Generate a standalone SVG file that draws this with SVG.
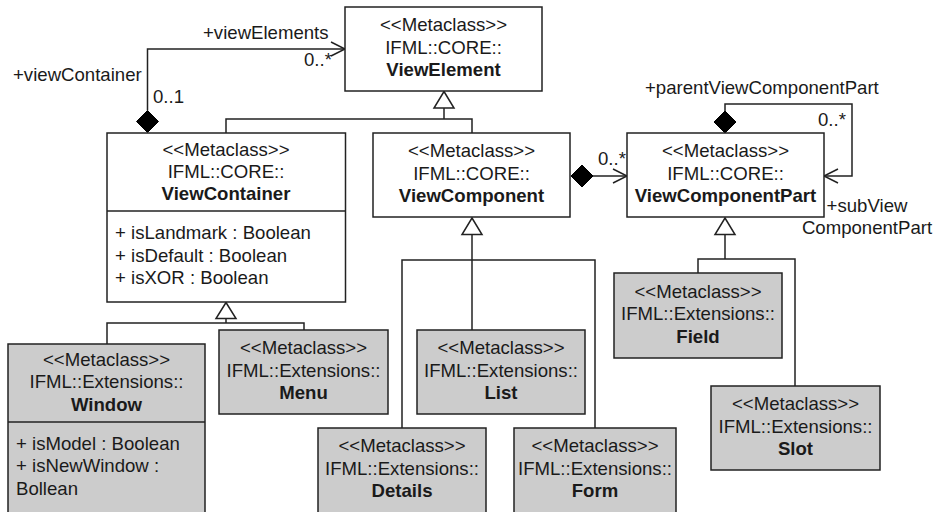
<svg xmlns="http://www.w3.org/2000/svg" width="936" height="512" viewBox="0 0 936 512">
<style>
  .box { fill: #ffffff; stroke: #222222; stroke-width: 1.5; }
  .ext { fill: #cccccc; stroke: #222222; stroke-width: 1.5; }
  .ln { fill: none; stroke: #222222; stroke-width: 1.5; }
  .t { font-family: "Liberation Sans", Arial, sans-serif; font-size: 18.6px; fill: #1a1a1a; }
  .c { text-anchor: middle; }
  .b { font-weight: bold; }
  .tri { fill: #ffffff; stroke: #222222; stroke-width: 1.5; }
  .dia { fill: #000000; stroke: #000000; stroke-width: 1; }
</style>
<rect width="936" height="512" fill="#ffffff"/>

<g id="connectors">
  <!-- viewContainer -> viewElements composition -->
  <polyline class="ln" points="147.5,110.5 147.5,49 345,49"/>
  <polyline class="ln" points="331,42 345,49 331,56"/>
  <polygon class="dia" points="147.5,110.5 158.5,121.5 147.5,132.5 136.5,121.5"/>
  <!-- ViewComponent -> ViewComponentPart composition -->
  <line class="ln" x1="593" y1="176" x2="627" y2="176"/>
  <polyline class="ln" points="613,169 627,176 613,183"/>
  <polygon class="dia" points="571,176 582,165 593,176 582,187"/>
  <!-- self association ViewComponentPart -->
  <polyline class="ln" points="725,111 725,104 852,104 852,176 824,176"/>
  <polyline class="ln" points="838,169 824,176 838,183"/>
  <polygon class="dia" points="725,111 736,122 725,133 714,122"/>
  <!-- generalization to ViewElement -->
  <polyline class="ln" points="226,133 226,119 472,119 472,133"/>
  <line class="ln" x1="444" y1="108" x2="444" y2="119"/>
  <polygon class="tri" points="444,91.5 454,108 434,108"/>
  <!-- generalization to ViewContainer -->
  <polyline class="ln" points="107,344 107,323 304,323 304,330"/>
  <line class="ln" x1="226" y1="318.5" x2="226" y2="323"/>
  <polygon class="tri" points="226,302.5 236,318.5 216,318.5"/>
  <!-- generalization to ViewComponent -->
  <line class="ln" x1="472" y1="234.5" x2="472" y2="330"/>
  <polyline class="ln" points="402,428 402,260 595,260 595,428"/>
  <polygon class="tri" points="472,218 482,234.5 462,234.5"/>
  <!-- generalization to ViewComponentPart -->
  <line class="ln" x1="725" y1="234.5" x2="725" y2="259"/>
  <polyline class="ln" points="698,273 698,259 795,259 795,386"/>
  <polygon class="tri" points="725,218 735,234.5 715,234.5"/>

  <!-- association labels -->
  <text class="t" x="203" y="38.5">+viewElements</text>
  <text class="t" x="304" y="66">0..*</text>
  <text class="t" x="13" y="81">+viewContainer</text>
  <text class="t" x="153" y="102.5">0..1</text>
  <text class="t" x="598" y="165">0..*</text>
  <text class="t" x="645" y="94">+parentViewComponentPart</text>
  <text class="t" x="818" y="125.5">0..*</text>
  <text class="t c" x="867" y="211.5">+subView</text>
  <text class="t c" x="867" y="234">ComponentPart</text>
</g>

<g id="ViewElement">
  <rect class="box" x="345" y="7" width="197" height="84"/>
  <text class="t c" x="443.5" y="31.2">&lt;&lt;Metaclass&gt;&gt;</text>
  <text class="t c" x="443.5" y="54">IFML::CORE::</text>
  <text class="t c b" x="443.5" y="76.4">ViewElement</text>
</g>

<g id="ViewContainer">
  <rect class="box" x="107" y="133" width="238.5" height="169"/>
  <line class="ln" x1="107" y1="211" x2="345.5" y2="211"/>
  <text class="t c" x="226" y="155.5">&lt;&lt;Metaclass&gt;&gt;</text>
  <text class="t c" x="226" y="177.5">IFML::CORE::</text>
  <text class="t c b" x="226" y="200">ViewContainer</text>
  <text class="t" x="115" y="239">+ isLandmark : Boolean</text>
  <text class="t" x="115" y="261.5">+ isDefault : Boolean</text>
  <text class="t" x="115" y="284">+ isXOR : Boolean</text>
</g>

<g id="ViewComponent">
  <rect class="box" x="373" y="133" width="197" height="84"/>
  <text class="t c" x="471.5" y="157.2">&lt;&lt;Metaclass&gt;&gt;</text>
  <text class="t c" x="471.5" y="180">IFML::CORE::</text>
  <text class="t c b" x="471.5" y="202.4">ViewComponent</text>
</g>

<g id="ViewComponentPart">
  <rect class="box" x="627" y="133" width="197" height="84"/>
  <text class="t c" x="725.5" y="157.2">&lt;&lt;Metaclass&gt;&gt;</text>
  <text class="t c" x="725.5" y="180">IFML::CORE::</text>
  <text class="t c b" x="725.5" y="202.4">ViewComponentPart</text>
</g>

<g id="Window">
  <rect class="ext" x="8" y="344" width="197" height="180"/>
  <line class="ln" x1="8" y1="422" x2="205" y2="422"/>
  <text class="t c" x="106.5" y="366">&lt;&lt;Metaclass&gt;&gt;</text>
  <text class="t c" x="106.5" y="388.3">IFML::Extensions::</text>
  <text class="t c b" x="106.5" y="410.7">Window</text>
  <text class="t" x="16" y="450">+ isModel : Boolean</text>
  <text class="t" x="16" y="472.4">+ isNewWindow :</text>
  <text class="t" x="16" y="494.8">Bollean</text>
</g>

<g id="Menu">
  <rect class="ext" x="219" y="330" width="169" height="84"/>
  <text class="t c" x="303.5" y="354.2">&lt;&lt;Metaclass&gt;&gt;</text>
  <text class="t c" x="303.5" y="377">IFML::Extensions::</text>
  <text class="t c b" x="303.5" y="399.4">Menu</text>
</g>

<g id="List">
  <rect class="ext" x="417" y="330" width="168" height="84"/>
  <text class="t c" x="501" y="354.2">&lt;&lt;Metaclass&gt;&gt;</text>
  <text class="t c" x="501" y="377">IFML::Extensions::</text>
  <text class="t c b" x="501" y="399.4">List</text>
</g>

<g id="Details">
  <rect class="ext" x="318" y="428" width="168" height="96"/>
  <text class="t c" x="402" y="452.2">&lt;&lt;Metaclass&gt;&gt;</text>
  <text class="t c" x="402" y="475">IFML::Extensions::</text>
  <text class="t c b" x="402" y="497.4">Details</text>
</g>

<g id="Form">
  <rect class="ext" x="514" y="428" width="162" height="96"/>
  <text class="t c" x="595" y="452.2">&lt;&lt;Metaclass&gt;&gt;</text>
  <text class="t c" x="595" y="475">IFML::Extensions::</text>
  <text class="t c b" x="595" y="497.4">Form</text>
</g>

<g id="Field">
  <rect class="ext" x="614" y="273" width="168" height="85"/>
  <text class="t c" x="698" y="297.6">&lt;&lt;Metaclass&gt;&gt;</text>
  <text class="t c" x="698" y="320.4">IFML::Extensions::</text>
  <text class="t c b" x="698" y="342.8">Field</text>
</g>

<g id="Slot">
  <rect class="ext" x="711" y="386" width="169" height="84"/>
  <text class="t c" x="795.5" y="410.2">&lt;&lt;Metaclass&gt;&gt;</text>
  <text class="t c" x="795.5" y="433">IFML::Extensions::</text>
  <text class="t c b" x="795.5" y="455.4">Slot</text>
</g>
</svg>
